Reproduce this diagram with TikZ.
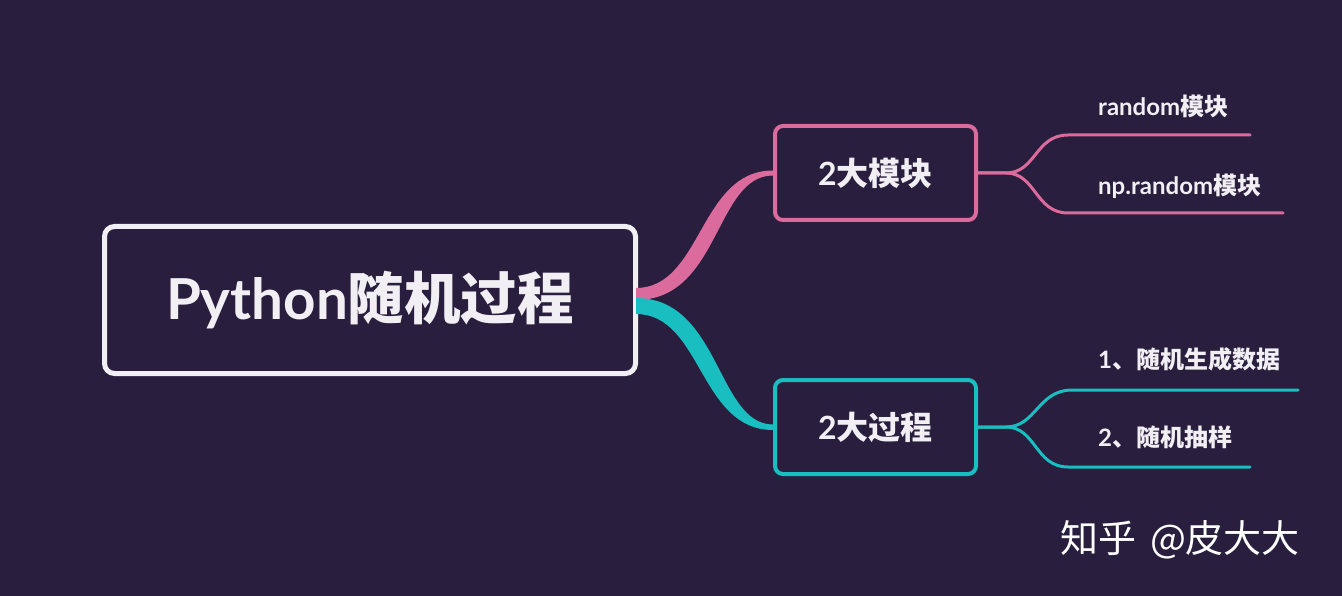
\documentclass[tikz,border=0pt]{standalone}
\usepackage{fontspec}
\newfontfamily\cjk{Noto Sans CJK SC}
\newfontfamily\lat{Lato}
\usetikzlibrary{calc}
\definecolor{bg}{HTML}{2A1E3E}
\definecolor{pinkc}{HTML}{DA6B9C}
\definecolor{tealc}{HTML}{19BEC0}
\definecolor{txt}{HTML}{F1EFF3}
\tikzset{
  mainbox/.style={draw=txt,line width=5pt,rounded corners=10pt,fill=bg,minimum width=531pt,minimum height=147pt,text=txt,inner sep=0pt},
  subbox/.style={line width=4pt,rounded corners=8pt,fill=bg,minimum width=201pt,minimum height=94pt,text=txt,inner sep=0pt,font=\cjk\bfseries\fontsize{32}{36}\selectfont},
  leaf/.style={anchor=west,text=txt,inner sep=0pt,font=\cjk\bfseries\fontsize{24}{28}\selectfont},
  twig/.style={line width=3pt,line cap=round},
}
\begin{document}
\begin{tikzpicture}[x=1pt,y=-1pt]
\fill[bg] (0,0) rectangle (1342,596);
\useasboundingbox (0,0) rectangle (1342,596);
% nodes
\node[mainbox] (main) at (370,300) {\bfseries\fontsize{56.5}{60}\selectfont{\lat Python}{\cjk 随机过程}};
\node[subbox,draw=pinkc] (mod) at (875.5,173) {\lat\bfseries 2\cjk 大模块};
\node[subbox,draw=tealc] (proc) at (875.5,427) {\lat\bfseries 2\cjk 大过程};
% main connectors (tapered)
\fill[pinkc] ($(main.east)+(-2,-12)$) .. controls ($(main.east)+(64,-12)$) and ($(mod.west)+(-74,-2.5)$) .. ($(mod.west)+(0,-2.5)$)
  -- ($(mod.west)+(0,2.5)$) .. controls ($(mod.west)+(-58,2.5)$) and ($(main.east)+(82,0)$) .. ($(main.east)+(-2,0)$) -- cycle;
\fill[tealc] ($(main.east)+(-2,-2)$) .. controls ($(main.east)+(82,-2)$) and ($(proc.west)+(-56,-2.5)$) .. ($(proc.west)+(0,-2.5)$)
  -- ($(proc.west)+(0,3)$) .. controls ($(proc.west)+(-74,3)$) and ($(main.east)+(64,14)$) .. ($(main.east)+(-2,14)$) -- cycle;
% leaves
\coordinate (m1) at (1250,135);
\coordinate (m2) at (1283,213);
\coordinate (p1) at (1298,390);
\coordinate (p2) at (1250,467);
\draw[twig,pinkc] (mod.east) -- ++(28,0) .. controls ++(30,0) and (1035,135) .. (1068,135) -- (m1);
\draw[twig,pinkc] (mod.east) -- ++(28,0) .. controls ++(30,0) and (1035,213) .. (1068,213) -- (m2);
\draw[twig,tealc] (proc.east) -- ++(28,0) .. controls ++(30,0) and (1038,390) .. (1072,390) -- (p1);
\draw[twig,tealc] (proc.east) -- ++(28,0) .. controls ++(30,0) and (1035,467) .. (1068,467) -- (p2);
\node[leaf] (l1) at (1098,106) {{\lat\bfseries random}模块};
\node[leaf] (l2) at (1098,186) {{\lat\bfseries np.random}模块};
\node[leaf] (l3) at (1098,359) {{\lat\bfseries 1}、随机生成数据};
\node[leaf] (l4) at (1098,437) {{\lat\bfseries 2}、随机抽样};
% watermark
\node[text=white,inner sep=0pt,font=\cjk\fontsize{38}{42}\selectfont] (wm) at (1180,540) {知乎\hspace{14pt}@皮大大};
\end{tikzpicture}
\end{document}
